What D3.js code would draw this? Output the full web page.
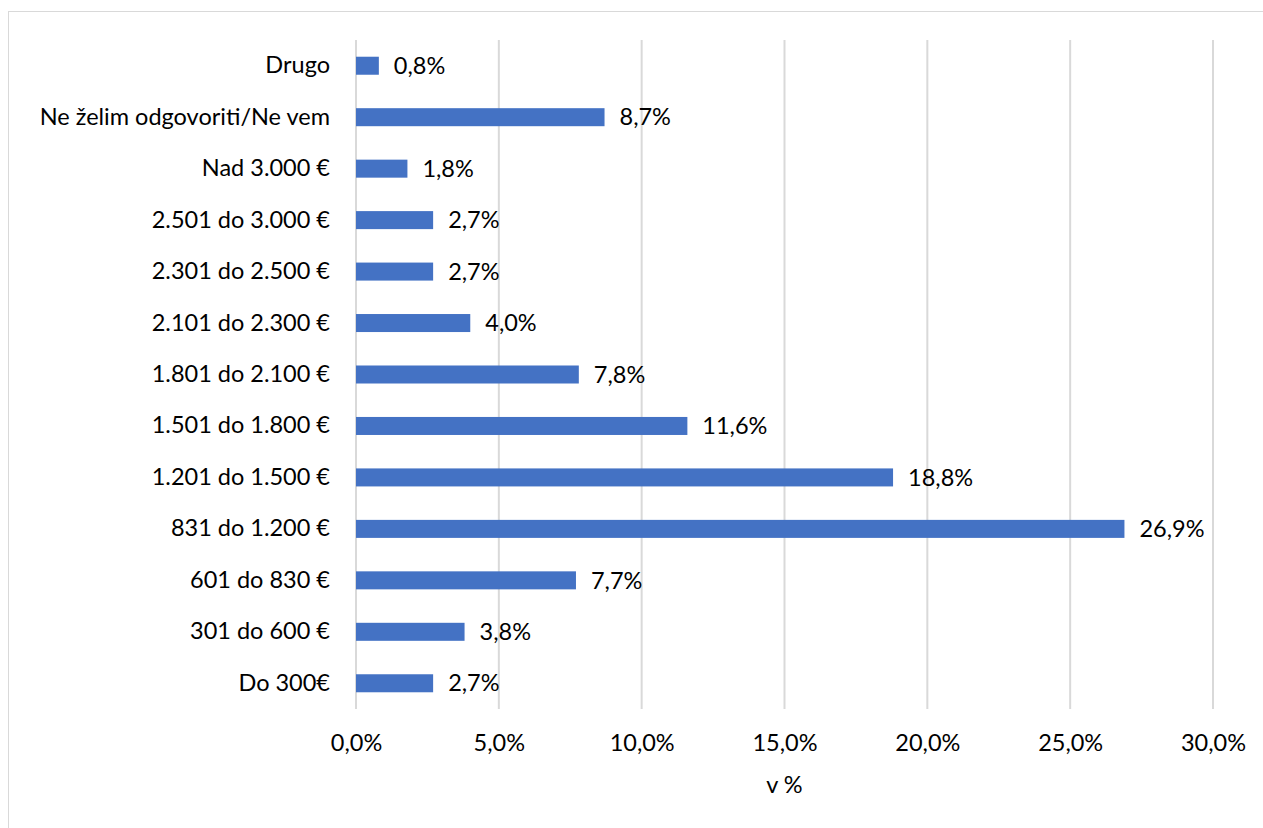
<!DOCTYPE html>
<html><head><meta charset="utf-8">
<script src="https://cdn.jsdelivr.net/npm/d3@7"></script>
<style>body{margin:0;background:#fff}svg{display:block}</style>
</head><body>
<script>
const categories = ["Drugo","Ne želim odgovoriti/Ne vem","Nad 3.000 €","2.501 do 3.000 €","2.301 do 2.500 €","2.101 do 2.300 €","1.801 do 2.100 €","1.501 do 1.800 €","1.201 do 1.500 €","831 do 1.200 €","601 do 830 €","301 do 600 €","Do 300€"];
const values = [0.8,8.7,1.8,2.7,2.7,4.0,7.8,11.6,18.8,26.9,7.7,3.8,2.7];
const ticks = [0,5,10,15,20,25,30];
const axisTitle = "v %";

const W=1263,H=828;
const font = "Lato, 'Open Sans', sans-serif";
const fs = 23.5;
const svg=d3.select("body").append("svg").attr("width",W).attr("height",H);
svg.append("rect").attr("x",8.5).attr("y",11.5).attr("width",W+10).attr("height",H+10)
  .attr("fill","#fff").attr("stroke","#d9d9d9");
const x=d3.scaleLinear().domain([0,30]).range([356,1213]);
const y=d3.scaleBand().domain(categories).range([40,709]).paddingInner(0.65).paddingOuter(0.325);
const fmt=v=>d3.format(".1f")(v).replace(".",",")+"%";

const g=svg.append("g");
g.append("g").selectAll("line").data(ticks).join("line")
  .attr("x1",d=>x(d)).attr("x2",d=>x(d)).attr("y1",40).attr("y2",709)
  .attr("stroke","#d9d9d9").attr("stroke-width",2);

const xa=svg.append("g").attr("transform","translate(0,709)")
  .call(d3.axisBottom(x).tickValues(ticks).tickFormat(fmt).tickSize(0).tickPadding(25));
xa.select(".domain").remove();
xa.selectAll("text").attr("font-family",font).attr("font-size",fs).attr("fill","#000");

const ya=svg.append("g").attr("transform","translate(356,0)")
  .call(d3.axisLeft(y).tickSize(0).tickPadding(26));
ya.select(".domain").remove();
ya.selectAll("text").attr("font-family",font).attr("font-size",fs).attr("fill","#000");

g.append("g").selectAll("rect").data(values).join("rect")
  .attr("x",x(0)).attr("y",(d,i)=>y(categories[i]))
  .attr("width",d=>x(d)-x(0)).attr("height",y.bandwidth()).attr("fill","#4472c4");

g.append("g").selectAll("text").data(values).join("text")
  .attr("x",d=>x(d)+15).attr("y",(d,i)=>y(categories[i])+y.bandwidth()/2)
  .attr("dy","0.35em").attr("font-family",font).attr("font-size",fs).attr("fill","#000")
  .text(fmt);

svg.append("text").attr("x",(x(0)+x(30))/2).attr("y",785).attr("dy","0.35em")
  .attr("text-anchor","middle").attr("font-family",font).attr("font-size",fs).text(axisTitle);
</script>
</body></html>
